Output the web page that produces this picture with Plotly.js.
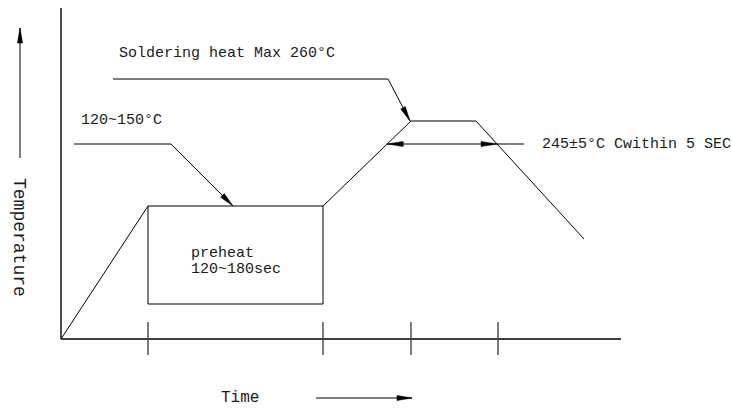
<!DOCTYPE html>
<html>
<head>
<meta charset="utf-8">
<script src="https://cdn.plot.ly/plotly-3.0.1.min.js"></script>
<style>html,body{margin:0;padding:0;background:#fff;}#chart{width:732px;height:410px;}</style>
</head>
<body>
<div id="chart"></div>
<script>
// Reflow soldering profile (schematic units: time → right, temperature → up)
const profileTime = [0, 87, 262, 350, 415, 523];
const profileTemp = [0, 133, 133, 218, 218, 100];
const preheatBoxTime = [87, 262];
const preheatBoxTemp = [35, 133];
const tickTimes = [87, 262, 350, 437];
const axisEndTime = 560;
const axisEndTemp = 331;
const peakWindowTemp = 195;

const labelPreheat = ["preheat", "120~180sec"];
const labelSoak = "120~150°C";
const labelPeak = "Soldering heat Max 260°C";
const labelWindow = "245±5°C Cwithin 5 SEC";
const labelX = "Time";
const labelY = "Temperature";

const FONT = "Liberation Mono";
const traces = [];
function line(xs, ys, color, width) {
  traces.push({type: "scatter", mode: "lines", x: xs, y: ys, hoverinfo: "skip",
    line: {color: color || "#000", width: width || 1}});
}
function head(tipX, tipY, fromX, fromY, len, hw) {
  const dx = tipX - fromX, dy = tipY - fromY, d = Math.hypot(dx, dy);
  const ux = dx / d, uy = dy / d;
  const bx = tipX - ux * len, by = tipY - uy * len;
  traces.push({type: "scatter", mode: "lines", fill: "toself", fillcolor: "#000",
    hoverinfo: "skip", line: {color: "#000", width: 0.5},
    x: [tipX, bx - uy * hw, bx + uy * hw, tipX],
    y: [tipY, by + ux * hw, by - ux * hw, tipY]});
}
function arrow(x0, y0, x1, y1) { line([x0, x1], [y0, y1]); head(x1, y1, x0, y0, 15, 2.6); }

// axes
line([0, 0], [0, axisEndTemp], "#000", 1.4);
line([0, axisEndTime], [0, 0], "#000", 1.4);
// ticks
tickTimes.forEach(t => line([t, t], [-16, 17], "#444", 1.4));
// preheat box
line([preheatBoxTime[0], preheatBoxTime[0], preheatBoxTime[1], preheatBoxTime[1]],
     [preheatBoxTemp[1], preheatBoxTemp[0], preheatBoxTemp[0], preheatBoxTemp[1]], "#000", 1);
// profile
line(profileTime, profileTemp, "#000", 1);

// soak leader
line([13, 110], [195, 195]);
arrow(110, 195, 172, profileTemp[1]);
// peak leader
line([52, 327], [260, 260]);
arrow(327, 260, profileTime[3] - 1, profileTemp[3]);
// window double arrow
const leftX = profileTime[2] + (peakWindowTemp - profileTemp[2]) / (profileTemp[3] - profileTemp[2]) * (profileTime[3] - profileTime[2]);
const rightX = profileTime[4] + (profileTemp[4] - peakWindowTemp) / (profileTemp[4] - profileTemp[5]) * (profileTime[5] - profileTime[4]);
line([leftX, 463], [peakWindowTemp, peakWindowTemp]);
head(leftX, peakWindowTemp, leftX + 20, peakWindowTemp, 16, 2.6);
head(rightX, peakWindowTemp, rightX - 20, peakWindowTemp, 16, 2.6);
// axis direction arrows
arrow(-41, 181, -41, 311);
arrow(255, -59, 351, -59);

function txt(text, x, y, size, extra) {
  return Object.assign({text: text, x: x, y: y, xref: "x", yref: "y", showarrow: false,
    xanchor: "left", yanchor: "middle", font: {family: FONT, size: size || 15, color: "#1a1a1a"}}, extra || {});
}
const annotations = [
  txt(labelPeak, 56, 286),
  txt(labelSoak, 18, 219),
  txt(labelWindow, 479, 195),
  txt(labelPreheat[0], 128, 86),
  txt(labelPreheat[1], 128, 70),
  txt(labelX, 158, -59, 16),
  txt(labelY, -42, 102, 18, {xanchor: "center", textangle: 90})
];

Plotly.newPlot("chart", traces, {
  width: 732, height: 410,
  margin: {l: 0, r: 0, t: 0, b: 0},
  paper_bgcolor: "#fff", plot_bgcolor: "#fff",
  showlegend: false, hovermode: false,
  xaxis: {range: [-61, 671], visible: false, fixedrange: true},
  yaxis: {range: [-71, 339], visible: false, fixedrange: true},
  annotations: annotations
}, {staticPlot: true});
</script>
</body>
</html>
